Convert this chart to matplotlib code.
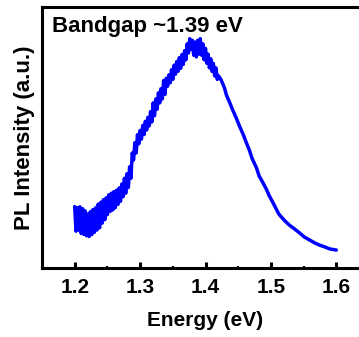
import matplotlib
matplotlib.use("Agg")
import matplotlib.pyplot as plt
from matplotlib.ticker import MultipleLocator

# Photoluminescence spectrum (normalised intensity vs photon energy)
# Low-energy side is noisy, so it is sampled densely (alternating high/low readings)
energy_noisy = [
    1.200, 1.202, 1.204, 1.206, 1.208, 1.210, 1.212, 1.214, 1.216, 1.218,
    1.220, 1.222, 1.224, 1.226, 1.228, 1.230, 1.232, 1.234, 1.236, 1.238,
    1.240, 1.242, 1.244, 1.246, 1.248, 1.250, 1.252, 1.254, 1.256, 1.258,
    1.260, 1.262, 1.264, 1.266, 1.268, 1.270, 1.272, 1.274, 1.276, 1.278,
    1.280, 1.282, 1.284, 1.286, 1.288, 1.290, 1.292, 1.294, 1.296, 1.298,
    1.300, 1.302, 1.304, 1.306, 1.308, 1.310, 1.312, 1.314, 1.316, 1.318,
    1.320, 1.322, 1.324, 1.326, 1.328, 1.330, 1.332, 1.334, 1.336, 1.338,
    1.340, 1.342, 1.344, 1.346, 1.348, 1.350, 1.352, 1.354, 1.356, 1.358,
    1.360, 1.362, 1.364, 1.366, 1.368, 1.370, 1.372, 1.374, 1.376, 1.378,
    1.380, 1.382, 1.384, 1.386, 1.388, 1.390, 1.392, 1.394, 1.396, 1.398,
    1.400, 1.402, 1.404, 1.406, 1.408, 1.410, 1.412, 1.414, 1.416, 1.418,
    1.420,
]
intensity_noisy = [
    0.267, 0.160, 0.262, 0.165, 0.266, 0.150, 0.258, 0.146, 0.248, 0.140,
    0.235, 0.137, 0.245, 0.145, 0.254, 0.155, 0.262, 0.165, 0.278, 0.175,
    0.286, 0.195, 0.297, 0.210, 0.305, 0.232, 0.318, 0.246, 0.325, 0.252,
    0.332, 0.262, 0.338, 0.276, 0.348, 0.290, 0.365, 0.310, 0.390, 0.325,
    0.410, 0.350, 0.440, 0.390, 0.500, 0.470, 0.545, 0.500, 0.580, 0.540,
    0.598, 0.560, 0.620, 0.580, 0.638, 0.600, 0.655, 0.618, 0.680, 0.635,
    0.718, 0.662, 0.735, 0.690, 0.762, 0.718, 0.780, 0.735, 0.815, 0.755,
    0.825, 0.790, 0.840, 0.805, 0.862, 0.820, 0.882, 0.842, 0.898, 0.855,
    0.915, 0.868, 0.928, 0.885, 0.945, 0.905, 0.975, 0.935, 0.997, 0.950,
    0.990, 0.925, 0.982, 0.918, 0.990, 0.930, 0.997, 0.925, 0.975, 0.905,
    0.955, 0.890, 0.930, 0.870, 0.910, 0.855, 0.890, 0.835, 0.870, 0.820,
    0.835,
]
# High-energy side is smooth
energy_smooth = [
    1.424, 1.429, 1.432, 1.436, 1.441, 1.447, 1.452, 1.458, 1.462, 1.467,
    1.471, 1.478, 1.482, 1.488, 1.493, 1.497, 1.505, 1.512, 1.520, 1.528,
    1.536, 1.544, 1.551, 1.559, 1.567, 1.574, 1.583, 1.590, 1.600,
]
intensity_smooth = [
    0.817, 0.783, 0.752, 0.726, 0.691, 0.652, 0.617, 0.578, 0.548, 0.513,
    0.478, 0.435, 0.400, 0.370, 0.343, 0.317, 0.274, 0.235, 0.209, 0.187,
    0.170, 0.152, 0.135, 0.122, 0.109, 0.100, 0.091, 0.083, 0.078,
]

energy = energy_noisy + energy_smooth
intensity = intensity_noisy + intensity_smooth

x_label = "Energy (eV)"
y_label = "PL Intensity (a.u.)"
annotation = "Bandgap ~1.39 eV"

plt.rcParams["font.family"] = ["Liberation Sans", "DejaVu Sans"]
plt.rcParams["font.weight"] = "bold"
plt.rcParams["axes.labelweight"] = "bold"
plt.rcParams["path.simplify"] = False

fig = plt.figure(figsize=(3.59, 3.37), dpi=100)
ax = fig.add_axes([42 / 359, 69 / 337, 327 / 359, 261.5 / 337])

ax.plot(energy, intensity, color="#0000ff", lw=2.5,
        solid_joinstyle="round", solid_capstyle="round")

ax.set_xlim(1.15, 1.65)
ax.set_ylim(0, 1.137)
ax.set_yticks([])
ax.xaxis.set_major_locator(MultipleLocator(0.1))
ax.xaxis.set_minor_locator(MultipleLocator(0.05))
ax.tick_params(axis="x", which="major", direction="in", length=4, width=2.2,
               labelsize=15, pad=7)
ax.tick_params(axis="x", which="minor", direction="in", length=1.5, width=1.5)
for lab in ax.get_xticklabels():
    lab.set_fontweight("bold")

for sp in ax.spines.values():
    sp.set_linewidth(2.2)

ax.set_xlabel(x_label, fontsize=15, fontweight="bold", labelpad=10)
ax.set_ylabel(y_label, fontsize=16, fontweight="bold", labelpad=5)

ax.text(0.03, 0.904, annotation, transform=ax.transAxes, ha="left",
        va="baseline", fontsize=16, fontweight="bold")

fig.savefig("out.png", dpi=100)
